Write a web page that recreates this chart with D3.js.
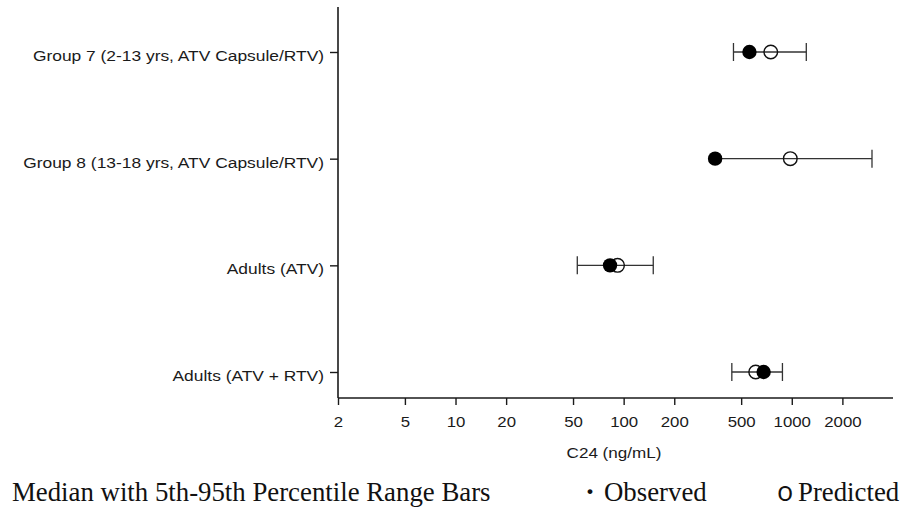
<!DOCTYPE html>
<html>
<head>
<meta charset="utf-8">
<script src="https://cdn.jsdelivr.net/npm/d3@7"></script>
<style>
  html, body { margin: 0; padding: 0; background: #fff; }
  svg { display: block; }
</style>
</head>
<body>
<svg id="chart" width="903" height="508"></svg>
<script>
// ---- data ----
const categories = [
  "Group 7 (2-13 yrs, ATV Capsule/RTV)",
  "Group 8 (13-18 yrs, ATV Capsule/RTV)",
  "Adults (ATV)",
  "Adults (ATV + RTV)"
];
const observed  = [560, 350, 83, 680];
const predicted = [750, 980, 92, 610];
const low       = [450, null, 53, 440];
const high      = [1220, 3000, 150, 880];
const xTicks    = [2, 5, 10, 20, 50, 100, 200, 500, 1000, 2000];
const xTitle    = "C24 (ng/mL)";
const legendLabel = "Median with 5th-95th Percentile Range Bars";
const legendObserved = "Observed";
const legendPredicted = "Predicted";

// ---- layout ----
const svg = d3.select("#chart");
const axisX0 = 338, axisX1 = 893, axisY = 398, axisTop = 7;
const sx = 1.2; // horizontal stretch of the sans-serif text

const x = d3.scaleLog().domain([2, 4000]).range([axisX0, axisX1]);
const y = d3.scalePoint().domain(categories).range([52, 372]);

const ink = "#1a1a1a";

// X axis
const gx = svg.append("g").attr("transform", `translate(0,${axisY})`)
  .call(d3.axisBottom(x).tickValues(xTicks).tickFormat(d3.format("d")).tickSizeOuter(0).tickSize(7));
gx.select(".domain").attr("d", `M${axisX0},0H${axisX1}`).attr("stroke", ink).attr("stroke-width", 1.6);
gx.selectAll(".tick line").attr("stroke", ink).attr("stroke-width", 1.4);
gx.selectAll(".tick text")
  .attr("y", 29).attr("dy", null)
  .attr("fill", ink)
  .style("font-family", "'Liberation Sans', Arial, sans-serif")
  .style("font-size", "14px")
  .attr("transform", `scale(${sx},1)`);

// Y axis
const gy = svg.append("g").attr("transform", `translate(${axisX0},0)`)
  .call(d3.axisLeft(y).tickSize(8).tickSizeOuter(0));
gy.select(".domain").attr("d", `M0,${axisTop}V${axisY}`).attr("stroke", ink).attr("stroke-width", 1.6);
gy.selectAll(".tick line").attr("stroke", ink).attr("stroke-width", 1.4);
gy.selectAll(".tick text")
  .attr("x", -14 / sx).attr("y", 8.5).attr("dy", null)
  .attr("fill", ink)
  .style("font-family", "'Liberation Sans', Arial, sans-serif")
  .style("font-size", "14.5px")
  .attr("transform", `scale(${sx},1)`);

// X title
svg.append("text")
  .attr("transform", `translate(${(566 + 662) / 2},458) scale(1.22,1)`)
  .attr("text-anchor", "middle")
  .attr("fill", ink)
  .style("font-family", "'Liberation Sans', Arial, sans-serif")
  .style("font-size", "14px")
  .text(xTitle);

// ---- marks ----
const rows = categories.map((c, i) => ({
  cat: c, obs: observed[i], pred: predicted[i], lo: low[i], hi: high[i]
}));
const capH = 9;
const whiskerColor = "#333";

const g = svg.append("g");
rows.forEach(r => {
  const cy = y(r.cat);
  const loVal = r.lo != null ? r.lo : Math.min(r.obs, r.pred);
  g.append("line")
    .attr("x1", x(loVal)).attr("x2", x(r.hi))
    .attr("y1", cy).attr("y2", cy)
    .attr("stroke", whiskerColor).attr("stroke-width", 1.3);
  if (r.lo != null) {
    g.append("line")
      .attr("x1", x(r.lo)).attr("x2", x(r.lo))
      .attr("y1", cy - capH).attr("y2", cy + capH)
      .attr("stroke", whiskerColor).attr("stroke-width", 1.3);
  }
  g.append("line")
    .attr("x1", x(r.hi)).attr("x2", x(r.hi))
    .attr("y1", cy - capH).attr("y2", cy + capH)
    .attr("stroke", whiskerColor).attr("stroke-width", 1.3);
  // predicted: open circle
  g.append("circle")
    .attr("cx", x(r.pred)).attr("cy", cy).attr("r", 6.8)
    .attr("fill", "none").attr("stroke", "#111").attr("stroke-width", 1.4);
  // observed: filled circle
  g.append("circle")
    .attr("cx", x(r.obs)).attr("cy", cy).attr("r", 7.2)
    .attr("fill", "#000");
});

// ---- legend line ----
const serif = "'Liberation Serif', 'Times New Roman', serif";
svg.append("text")
  .attr("x", 12).attr("y", 501)
  .attr("fill", "#111")
  .style("font-family", serif).style("font-size", "26.8px")
  .text(legendLabel);
svg.append("text")
  .attr("x", 585).attr("y", 501)
  .attr("fill", "#111")
  .style("font-family", serif).style("font-size", "30px").style("font-weight", "bold")
  .text("\u00B7");
svg.append("text")
  .attr("x", 604).attr("y", 501)
  .attr("fill", "#111")
  .style("font-family", serif).style("font-size", "26.8px")
  .text(legendObserved);
svg.append("text")
  .attr("x", 777).attr("y", 501)
  .attr("fill", "#111")
  .style("font-family", "'Open Sans', sans-serif").style("font-size", "27px")
  .text("o");
svg.append("text")
  .attr("x", 798).attr("y", 501)
  .attr("fill", "#111")
  .style("font-family", serif).style("font-size", "26.8px")
  .text(legendPredicted);
</script>
</body>
</html>
